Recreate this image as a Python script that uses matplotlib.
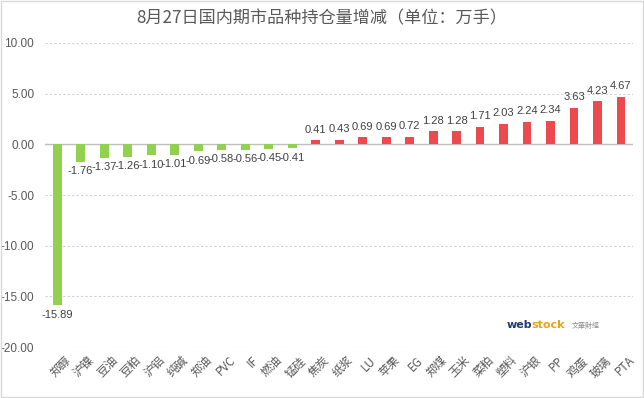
import matplotlib
matplotlib.use("Agg")
import matplotlib.pyplot as plt
from matplotlib.patches import Rectangle
import matplotlib.transforms as mtransforms

plt.rcParams['font.family'] = ['Noto Sans CJK SC', 'DejaVu Sans']

categories = ["郑醇", "沪镍", "豆油", "豆粕", "沪铝", "纯碱", "郑油", "PVC", "IF", "燃油",
              "锰硅", "焦炭", "纸浆", "LU", "苹果", "EG", "郑煤", "玉米", "菜粕", "塑料",
              "沪银", "PP", "鸡蛋", "玻璃", "PTA"]
values = [-15.89, -1.76, -1.37, -1.26, -1.10, -1.01, -0.69, -0.58, -0.56, -0.45,
          -0.41, 0.41, 0.43, 0.69, 0.69, 0.72, 1.28, 1.28, 1.71, 2.03,
          2.24, 2.34, 3.63, 4.23, 4.67]
yticks = [-20, -15, -10, -5, 0, 5, 10]
title = "8月27日国内期市品种持仓量增减（单位：万手）"

green = "#92D050"
red = "#EC4A4F"
text_color = "#595959"

fig = plt.figure(figsize=(6.44, 3.98), dpi=100)
fig.patches.append(Rectangle((0.002, 0.002), 0.996, 0.996, transform=fig.transFigure,
                             fill=False, edgecolor="#D9D9D9", linewidth=1.0))

ax = fig.add_axes([0.0705, 0.128, 0.912, 0.764])
x = list(range(len(categories)))
colors = [green if v < 0 else red for v in values]
ax.bar(x, values, width=0.38, color=colors, zorder=3)

ax.set_xlim(-0.5, len(categories) - 0.5)
ax.set_ylim(-20, 10)
ax.set_yticks(yticks)
ax.set_yticklabels([f"{t:.2f}" for t in yticks], fontsize=8.5, color=text_color,
                   family=['Liberation Sans', 'DejaVu Sans'])
ax.tick_params(axis='y', length=0, pad=8)
for s in ax.spines.values():
    s.set_visible(False)
ax.yaxis.grid(True, linestyle=(0, (2, 2)), color="#D0D0D0", linewidth=0.8, zorder=0)
ax.axhline(0, color="#BFBFBF", linewidth=1.0, zorder=2)

ax.set_xticks(x)
ax.set_xticklabels(categories, rotation=45, ha='right', rotation_mode='anchor',
                   fontsize=8.5, color=text_color)
ax.tick_params(axis='x', length=0, pad=5)
offset = mtransforms.ScaledTranslation(7 / 100, 0, fig.dpi_scale_trans)
for lbl in ax.get_xticklabels():
    lbl.set_transform(lbl.get_transform() + offset)

for xi, v in zip(x, values):
    if v < 0:
        ax.annotate(f"{v:.2f}", (xi, v), xytext=(0, -3), textcoords='offset points',
                    ha='center', va='top', fontsize=8, color="#404040",
                    family=['Liberation Sans', 'DejaVu Sans'])
    else:
        ax.annotate(f"{v:.2f}", (xi, v), xytext=(0, 4), textcoords='offset points',
                    ha='center', va='bottom', fontsize=8, color="#404040",
                    family=['Liberation Sans', 'DejaVu Sans'])

fig.text(0.5, 0.955, title, ha='center', va='center', fontsize=12.3, color=text_color)

# watermark
fig.text(0.787, 0.183, "web", ha='left', va='center', fontsize=8, fontweight='bold',
         color="#1F3B73", family=['DejaVu Sans'])
fig.text(0.8245, 0.183, "stock", ha='left', va='center', fontsize=8, fontweight='bold',
         color="#E8A317", family=['DejaVu Sans'])
fig.text(0.888, 0.181, "文華財經", ha='left', va='center', fontsize=5, color="#8C8C8C")

fig.savefig("out.png", dpi=100)
